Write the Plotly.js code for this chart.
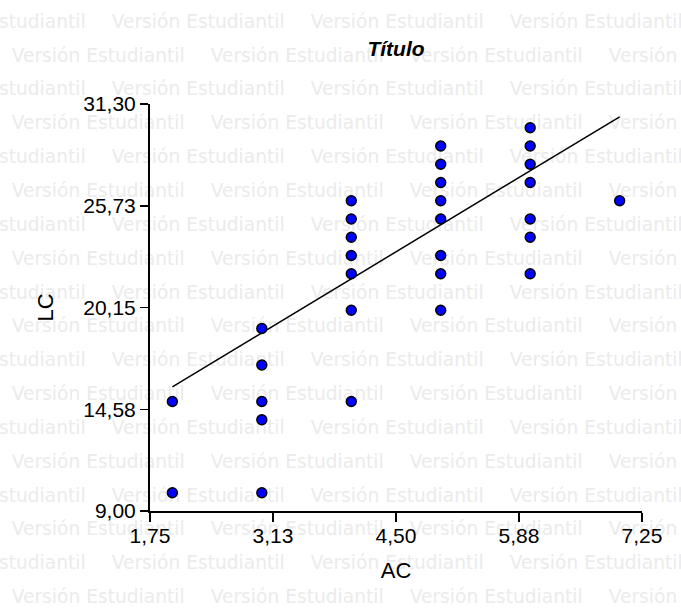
<!DOCTYPE html>
<html>
<head>
<meta charset="utf-8">
<script src="https://cdn.plot.ly/plotly-3.0.1.min.js"></script>
<style>
  html, body { margin: 0; padding: 0; background: #ffffff; }
  #wrap { position: relative; width: 681px; height: 609px; overflow: hidden; }
  #wm { position: absolute; left: 0; top: 0; z-index: 0; }
  #chart { position: absolute; left: 0; top: 0; z-index: 1; width: 681px; height: 609px; }
</style>
</head>
<body>
<div id="wrap">
  <svg id="wm" width="681" height="609" xmlns="http://www.w3.org/2000/svg"></svg>
  <div id="chart"></div>
</div>
<script>
// ---- data ----
const acValues = [2, 2,
                  3, 3, 3, 3, 3,
                  4, 4, 4, 4, 4, 4, 4,
                  5, 5, 5, 5, 5, 5, 5, 5,
                  6, 6, 6, 6, 6, 6, 6,
                  7];
const lcValues = [15, 10,
                  19, 17, 15, 14, 10,
                  26, 25, 24, 23, 22, 20, 15,
                  29, 28, 27, 26, 25, 23, 22, 20,
                  30, 29, 28, 27, 25, 24, 22,
                  26];
const fitAC = [2, 7];
const fitLC = [15.8, 30.6];

const acTickVals = [1.75, 3.125, 4.5, 5.875, 7.25];
const acTickText = ["1,75", "3,13", "4,50", "5,88", "7,25"];
const lcTickVals = [9, 14.575, 20.15, 25.725, 31.3];
const lcTickText = ["9,00", "14,58", "20,15", "25,73", "31,30"];

const chartTitle = "Título";
const xTitle = "AC";
const yTitle = "LC";
const watermarkText = "Versión Estudiantil";

// ---- watermark (background layer) ----
(function () {
  const svg = document.getElementById('wm');
  const NS = 'http://www.w3.org/2000/svg';
  const rowGap = 33.85, firstBase = 27.7, period = 199;
  for (let r = 0; r < 19; r++) {
    const base = firstBase + r * rowGap;
    const start = (r % 2 === 0) ? 111.7 - period : 11.7;
    for (let x = start; x < 700; x += period) {
      const t = document.createElementNS(NS, 'text');
      t.setAttribute('x', x);
      t.setAttribute('y', base);
      t.setAttribute('font-family', 'DejaVu Sans');
      t.setAttribute('font-size', '20');
      t.setAttribute('fill', '#ebebeb');
      t.setAttribute('textLength', '173');
      t.setAttribute('lengthAdjust', 'spacingAndGlyphs');
      t.textContent = watermarkText;
      svg.appendChild(t);
    }
  }
})();

// ---- chart ----
const traces = [
  {
    x: fitAC, y: fitLC, type: 'scatter', mode: 'lines',
    line: { color: '#000000', width: 1.5 },
    hoverinfo: 'skip'
  },
  {
    x: acValues, y: lcValues, type: 'scatter', mode: 'markers',
    marker: { color: '#0000ff', size: 10, line: { color: '#000000', width: 1.4 } },
    cliponaxis: false
  }
];

const axisCommon = {
  showline: true, linecolor: '#000000', linewidth: 2,
  ticks: 'outside', ticklen: 8, tickwidth: 1.5, tickcolor: '#000000',
  showgrid: false, zeroline: false,
  tickfont: { family: 'Liberation Sans, Arial, sans-serif', size: 21, color: '#000000' },
  tickmode: 'array', fixedrange: true
};

const layout = {
  width: 681, height: 609,
  margin: { l: 150, r: 39, t: 104, b: 98, pad: 0 },
  paper_bgcolor: 'rgba(0,0,0,0)',
  plot_bgcolor: 'rgba(0,0,0,0)',
  showlegend: false,
  font: { family: 'Liberation Sans, Arial, sans-serif', color: '#000000' },
  title: {
    text: chartTitle,
    font: { family: 'Liberation Sans, Arial, sans-serif', size: 21, weight: 'bold', style: 'italic', color: '#000000' },
    xref: 'paper', x: 0.5, xanchor: 'center',
    yref: 'container', y: 1 - 49 / 609, yanchor: 'middle'
  },
  xaxis: Object.assign({}, axisCommon, {
    range: [1.75, 7.25],
    tickvals: acTickVals, ticktext: acTickText, ticklen: 9,
    ticklabelstandoff: -4,
    title: { text: xTitle, font: { family: 'Liberation Sans, Arial, sans-serif', size: 22, color: '#000000' }, standoff: 16 }
  }),
  yaxis: Object.assign({}, axisCommon, {
    range: [9, 31.3],
    tickvals: lcTickVals, ticktext: lcTickText,
    title: { text: yTitle, font: { family: 'Liberation Sans, Arial, sans-serif', size: 22, color: '#000000' }, standoff: 24 }
  })
};

Plotly.newPlot('chart', traces, layout, { displayModeBar: false, staticPlot: true });
</script>
</body>
</html>
